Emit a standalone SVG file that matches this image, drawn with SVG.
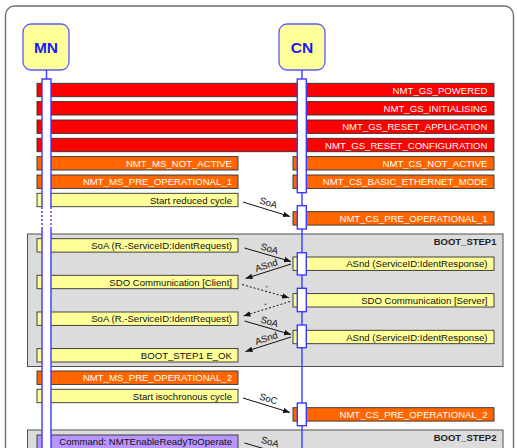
<svg xmlns="http://www.w3.org/2000/svg" width="517" height="448" viewBox="0 0 517 448">
  <style>
    text { font-family: "Liberation Sans", Arial, sans-serif; }
    .frame { fill: #ffffff; stroke: #6e6e6e; stroke-width: 1.4; }
    .step { fill: #dcdcdc; stroke: #505050; stroke-width: 1; }
    .steplbl { font-size: 9.5px; font-weight: bold; fill: #222222; text-anchor: end; }
    .st { stroke: #303030; stroke-width: 0.9; }
    .red { fill: #ff0000; }
    .org { fill: #ff6600; }
    .yel { fill: #ffff99; }
    .pur { fill: #b996ff; }
    .wt { font-size: 9.6px; fill: #ffffff; text-anchor: end; }
    .bt { font-size: 9.6px; fill: #111111; text-anchor: end; }
    .node { fill: #ffff99; stroke: #5a5aff; stroke-width: 1.3; }
    .nlbl { font-size: 15.5px; font-weight: bold; fill: #1a1aee; text-anchor: middle; }
    .stem { stroke: #3a3aff; stroke-width: 1.4; fill: none; }
    .bar { fill: #ffffff; stroke: #3a3aff; stroke-width: 1.4; }
    .msg { stroke: #111111; stroke-width: 1; fill: none; }
    .dot { stroke-dasharray: 2 2; }
    .mlbl { font-size: 9.5px; fill: #111111; text-anchor: middle; }
    .tiny { font-size: 6px; fill: #111111; text-anchor: middle; }
  </style>
  <defs>
    <marker id="ah" viewBox="0 0 10 10" refX="10" refY="5" markerWidth="7" markerHeight="7" orient="auto" markerUnits="userSpaceOnUse">
      <path d="M0,1 L10,5 L0,9 Z" fill="#111111"/>
    </marker>
  </defs>

  <!-- outer frame -->
  <rect class="frame" x="5.5" y="6" width="508" height="470" rx="9"/>

  <!-- phase boxes -->
  <g id="boot_step1">
    <rect class="step" x="27.5" y="234" width="475.5" height="132.5"/>
    <text class="steplbl" x="496.5" y="244.5">BOOT_STEP1</text>
  </g>
  <g id="boot_step2">
    <rect class="step" x="27.5" y="430" width="475.5" height="40"/>
    <text class="steplbl" x="496.5" y="440.5">BOOT_STEP2</text>
  </g>

  <!-- state / action bars -->
  <g id="nmt_gs_powered"><rect class="red st" x="37" y="83.3" width="457" height="13.4"/><text class="wt" x="487.5" y="93.5">NMT_GS_POWERED</text></g>
  <g id="nmt_gs_initialising"><rect class="red st" x="37" y="101.6" width="457" height="13.4"/><text class="wt" x="487.5" y="111.8">NMT_GS_INITIALISING</text></g>
  <g id="nmt_gs_reset_application"><rect class="red st" x="37" y="120" width="457" height="13.4"/><text class="wt" x="487.5" y="130.2">NMT_GS_RESET_APPLICATION</text></g>
  <g id="nmt_gs_reset_configuration"><rect class="red st" x="37" y="138.3" width="457" height="13.4"/><text class="wt" x="487.5" y="148.5">NMT_GS_RESET_CONFIGURATION</text></g>

  <g id="nmt_ms_not_active"><rect class="org st" x="37" y="156.6" width="201" height="13.4"/><text class="wt" x="232" y="166.8">NMT_MS_NOT_ACTIVE</text></g>
  <g id="nmt_cs_not_active"><rect class="org st" x="293" y="156.6" width="201" height="13.4"/><text class="wt" x="487.5" y="166.8">NMT_CS_NOT_ACTIVE</text></g>
  <g id="nmt_ms_pre_operational_1"><rect class="org st" x="37" y="175" width="201" height="13.4"/><text class="wt" x="232" y="185.2">NMT_MS_PRE_OPERATIONAL_1</text></g>
  <g id="nmt_cs_basic_ethernet_mode"><rect class="org st" x="293" y="175" width="201" height="13.4"/><text class="wt" x="487.5" y="185.2">NMT_CS_BASIC_ETHERNET_MODE</text></g>
  <g id="start_reduced_cycle"><rect class="yel st" x="37" y="193.3" width="201" height="13.4"/><text class="bt" x="232" y="203.5">Start reduced cycle</text></g>
  <g id="nmt_cs_pre_operational_1"><rect class="org st" x="293" y="211.7" width="201" height="13.4"/><text class="wt" x="487.5" y="221.9">NMT_CS_PRE_OPERATIONAL_1</text></g>

  <g id="soa_ident_request_1"><rect class="yel st" x="37" y="238.7" width="201" height="13.4"/><text class="bt" x="232" y="248.9">SoA (R.-ServiceID:IdentRequest)</text></g>
  <g id="asnd_ident_response_1"><rect class="yel st" x="293" y="257" width="201" height="13.4"/><text class="bt" x="487.5" y="267.2">ASnd (ServiceID:IdentResponse)</text></g>
  <g id="sdo_client"><rect class="yel st" x="37" y="275.3" width="201" height="13.4"/><text class="bt" x="232" y="285.5">SDO Communication [Client]</text></g>
  <g id="sdo_server"><rect class="yel st" x="293" y="293.6" width="201" height="13.4"/><text class="bt" x="487.5" y="303.8">SDO Communication [Server]</text></g>
  <g id="soa_ident_request_2"><rect class="yel st" x="37" y="312" width="201" height="13.4"/><text class="bt" x="232" y="322.2">SoA (R.-ServiceID:IdentRequest)</text></g>
  <g id="asnd_ident_response_2"><rect class="yel st" x="293" y="330.3" width="201" height="13.4"/><text class="bt" x="487.5" y="340.5">ASnd (ServiceID:IdentResponse)</text></g>
  <g id="boot_step1_eok"><rect class="yel st" x="37" y="348.6" width="201" height="13.4"/><text class="bt" x="232" y="358.8">BOOT_STEP1 E_OK</text></g>

  <g id="nmt_ms_pre_operational_2"><rect class="org st" x="37" y="371" width="201" height="13.4"/><text class="wt" x="232" y="381.2">NMT_MS_PRE_OPERATIONAL_2</text></g>
  <g id="start_isochronous_cycle"><rect class="yel st" x="37" y="389.3" width="201" height="13.4"/><text class="bt" x="232" y="399.5">Start isochronous cycle</text></g>
  <g id="nmt_cs_pre_operational_2"><rect class="org st" x="293" y="407.7" width="201" height="13.4"/><text class="wt" x="487.5" y="417.9">NMT_CS_PRE_OPERATIONAL_2</text></g>
  <g id="cmd_enable_ready_to_operate"><rect class="pur st" x="37" y="435" width="201" height="20"/><text class="bt" x="232" y="445.2">Command: NMTEnableReadyToOperate</text></g>

  <!-- MN lifeline -->
  <g id="mn">
    <rect class="node" x="23" y="24" width="46" height="46" rx="8"/>
    <text class="nlbl" x="46" y="52.8">MN</text>
    <line class="stem" x1="46.5" y1="70" x2="46.5" y2="79"/>
    <rect x="42" y="79" width="9" height="380" fill="#ffffff"/>
    <path class="stem" d="M42,207 V79 H51 V207"/>
    <path class="stem" d="M42,207 V228 M51,207 V228" stroke-dasharray="2 2"/>
    <path class="stem" d="M42,228 V460 M51,228 V460"/>
  </g>

  <!-- CN lifeline -->
  <g id="cn">
    <rect class="node" x="279" y="24" width="46" height="46" rx="8"/>
    <text class="nlbl" x="302" y="52.8">CN</text>
    <line class="stem" x1="302" y1="70" x2="302" y2="460"/>
    <rect class="bar" x="297.3" y="79" width="9" height="113.7"/>
    <rect class="bar" x="297.3" y="205.7" width="9" height="23.3"/>
    <rect class="bar" x="297.3" y="252.7" width="9" height="22.3"/>
    <rect class="bar" x="297.3" y="288.3" width="9" height="23.4"/>
    <rect class="bar" x="297.3" y="325" width="9" height="22.7"/>
    <rect class="bar" x="297.3" y="403" width="9" height="22.7"/>
  </g>

  <!-- messages -->
  <g id="connectors">
    <line class="msg" x1="243" y1="202" x2="290" y2="216.5" marker-end="url(#ah)"/>
    <text class="mlbl" transform="translate(266.5,209.2) rotate(17.1)" x="0" y="-3.5">SoA</text>

    <line class="msg" x1="244.5" y1="248" x2="291" y2="261.5" marker-end="url(#ah)"/>
    <text class="mlbl" transform="translate(267.7,254.7) rotate(16.2)" x="0" y="-3">SoA</text>

    <line class="msg" x1="291" y1="264" x2="245.5" y2="278.5" marker-end="url(#ah)"/>
    <text class="mlbl" transform="translate(268.2,271.2) rotate(-17.7)" x="0" y="-3">ASnd</text>

    <line class="msg dot" x1="242" y1="284.5" x2="289" y2="297.8" marker-end="url(#ah)"/>
    <text class="tiny" transform="translate(265.5,291.1) rotate(15.8)" x="0" y="-1.5">*</text>

    <line class="msg dot" x1="290" y1="301.5" x2="243.5" y2="316" marker-end="url(#ah)"/>
    <text class="tiny" transform="translate(266.7,308.7) rotate(-17.3)" x="0" y="-1.5">*</text>

    <line class="msg" x1="244.5" y1="321" x2="291" y2="334.5" marker-end="url(#ah)"/>
    <text class="mlbl" transform="translate(267.7,327.7) rotate(16.2)" x="0" y="-3">SoA</text>

    <line class="msg" x1="291" y1="337" x2="245.5" y2="351.5" marker-end="url(#ah)"/>
    <text class="mlbl" transform="translate(268.2,344.2) rotate(-17.7)" x="0" y="-3">ASnd</text>

    <line class="msg" x1="243" y1="398" x2="290" y2="412.5" marker-end="url(#ah)"/>
    <text class="mlbl" transform="translate(266.5,405.2) rotate(17.1)" x="0" y="-3.5">SoC</text>

    <line class="msg" x1="244.5" y1="443" x2="291" y2="456.5" marker-end="url(#ah)"/>
    <text class="mlbl" transform="translate(267.7,449.7) rotate(16.2)" x="0" y="-5">SoA</text>
  </g>
</svg>
